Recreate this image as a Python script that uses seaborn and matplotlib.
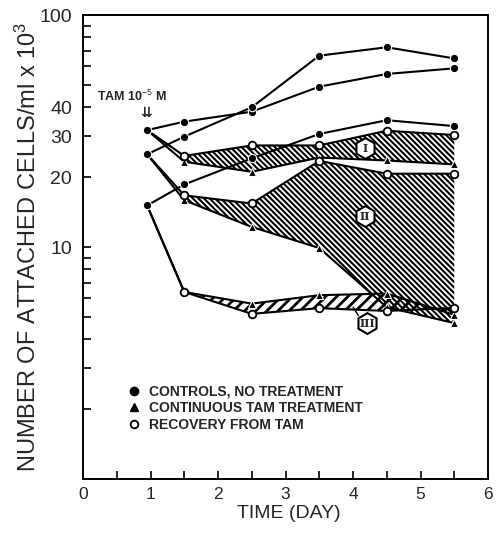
import matplotlib
matplotlib.use("Agg")
import matplotlib.pyplot as plt
import seaborn as sns
import pandas as pd
from matplotlib.lines import Line2D

# ---------------- data ----------------
days = [0.95, 1.5, 2.5, 3.5, 4.5, 5.5]

exp1_control = [31.9, 34.7, 38.3, 49.1, 55.7, 58.9]
exp1_tam = [31.9, 23.3, 21.1, 24.3, 23.6, 22.7]
exp1_recovery = [31.9, 24.7, 27.4, 27.4, 31.7, 30.4]

exp2_control = [25.1, 29.9, 40.0, 66.8, 72.6, 65.0]
exp2_tam = [25.1, 15.9, 12.2, 9.9, 5.5, 4.7]
exp2_recovery = [25.1, 16.7, 15.4, 23.5, 20.7, 20.7]

exp3_control = [15.1, 18.6, 24.1, 30.7, 35.2, 33.2]
exp3_tam = [15.1, 6.4, 5.7, 6.2, 6.3, 5.1]
exp3_recovery = [15.1, 6.4, 5.15, 5.45, 5.3, 5.47]

experiments = ["I", "II", "III"]
label_days = [4.18, 4.18, 4.21]
label_values = [26.7, 13.6, 4.7]

legend_labels = ["CONTROLS, NO TREATMENT", "CONTINUOUS TAM TREATMENT",
                 "RECOVERY FROM TAM"]
xticks = [0, 1, 2, 3, 4, 5, 6]
yticks = [10, 20, 30, 40, 100]

# ---------------- build table ----------------
series = {
    "I": (exp1_control, exp1_tam, exp1_recovery),
    "II": (exp2_control, exp2_tam, exp2_recovery),
    "III": (exp3_control, exp3_tam, exp3_recovery),
}
rows = []
for e, (c, t, r) in series.items():
    for name, vals in (("control", c), ("tam", t), ("recovery", r)):
        for d, v in zip(days, vals):
            rows.append(dict(exp=e, treatment=name, day=d, value=v))
df = pd.DataFrame(rows)

# ---------------- style ----------------
sns.set_theme(style="ticks")
plt.rcParams["font.family"] = ["Liberation Sans", "DejaVu Sans"]
plt.rcParams["mathtext.fontset"] = "custom"
plt.rcParams["mathtext.rm"] = "Liberation Sans"
plt.rcParams["mathtext.it"] = "Liberation Sans"
plt.rcParams["mathtext.bf"] = "Liberation Sans:bold"

fig = plt.figure(figsize=(4.99, 5.34), dpi=100)
ax = fig.add_axes([83 / 499, 1 - 479 / 534, 405 / 499, 464 / 534])

# ---------------- hatched regions ----------------
hatch_specs = {"I": ("\\" * 6, 1.5), "II": ("\\" * 6, 1.5), "III": ("/" * 3, 2.0)}
for e in experiments:
    sub = df[df.exp == e]
    tam = sub[sub.treatment == "tam"]
    rec = sub[sub.treatment == "recovery"]
    hatch, hlw = hatch_specs[e]
    with plt.rc_context({"hatch.linewidth": hlw, "hatch.color": "black"}):
        ax.fill_between(tam.day.values[1:], tam.value.values[1:], rec.value.values[1:],
                        facecolor="none", edgecolor="black", hatch=hatch,
                        linewidth=0, zorder=1)

# ---------------- lines ----------------
lw = 1.5
for e in experiments:
    sub = df[df.exp == e]
    tam = sub[sub.treatment == "tam"]
    rec = sub[sub.treatment == "recovery"]
    con = sub[sub.treatment == "control"]
    sns.lineplot(x=tam.day.values, y=tam.value.values, ax=ax, color="black", lw=lw,
                 marker="^", ms=6, markeredgewidth=0.8, markerfacecolor="black",
                 markevery=slice(1, None), zorder=3, estimator=None, sort=False)
    sns.lineplot(x=rec.day.values, y=rec.value.values, ax=ax, color="black", lw=lw,
                 marker="o", ms=5.5, markeredgewidth=1.3, markerfacecolor="white",
                 markeredgecolor="black", markevery=slice(1, None), zorder=3,
                 estimator=None, sort=False)
    sns.lineplot(x=con.day.values, y=con.value.values, ax=ax, color="black", lw=lw,
                 marker="o", ms=6, markeredgewidth=0.8, markerfacecolor="black",
                 zorder=4, estimator=None, sort=False)

# ---------------- roman numeral labels ----------------
for lab, d, v in zip(experiments, label_days, label_values):
    ax.plot([d], [v], marker="h", ms=15, mfc="white", mec="black", mew=1.5,
            ls="none", zorder=6)
    ax.text(d, v, lab, ha="center", va="center", fontsize=8, fontweight="bold",
            family="DejaVu Serif", zorder=7)
ax.annotate("", xy=(3.98, 5.63), xytext=(4.10, 4.95),
            arrowprops=dict(arrowstyle="-", color="black", lw=1.0), zorder=5)

# ---------------- treatment annotation ----------------
ax.text(0.21, 44.4, "TAM 10$^{-5}$ M", ha="left", va="center", fontsize=9,
        fontweight="bold")
ax.text(0.93, 38.0, "\u21ca", ha="center", va="center", fontsize=10,
        family="DejaVu Sans", fontweight="bold")

# ---------------- axes ----------------
ax.set_yscale("log")
ax.set_ylim(1, 100)
ax.set_xlim(0, 6)
ax.set_yticks(yticks)
ax.set_yticklabels([str(t) for t in yticks])
ax.set_yticks([2, 3, 4, 5, 6, 7, 8, 9, 50, 60, 70, 80, 90], minor=True)
ax.yaxis.set_minor_formatter(matplotlib.ticker.NullFormatter())
ax.set_xticks(xticks)
ax.set_xticklabels([str(t) for t in xticks])
ax.set_xticks([0.5, 1.5, 2.5, 3.5, 4.5, 5.5], minor=True)

ax.tick_params(axis="both", which="both", direction="in", length=5.5, width=1.2,
               color="black")
ax.tick_params(axis="y", which="major", labelsize=14, pad=8)
ax.tick_params(axis="x", which="major", labelsize=12.5, pad=6)
for s in ax.spines.values():
    s.set_linewidth(1.4)
    s.set_color("black")

ax.set_xlabel("TIME (DAY)", fontsize=14)
ax.set_ylabel("NUMBER OF ATTACHED CELLS/ml x 10$^3$", fontsize=17)
ax.yaxis.set_label_coords(-0.105, 0.5)
ax.xaxis.set_label_coords(0.509, -0.056)
ax.xaxis.label.set_va("top")

# ---------------- legend ----------------
handles = [
    Line2D([], [], marker="o", color="black", ls="none", ms=6),
    Line2D([], [], marker="^", color="black", ls="none", ms=6),
    Line2D([], [], marker="o", color="black", mfc="white", mew=1.3, ls="none", ms=5.5),
]
leg = ax.legend(handles, legend_labels, loc="upper left", bbox_to_anchor=(0.112, 0.203),
                frameon=False, fontsize=10, handlelength=0.8, handletextpad=0.7,
                labelspacing=0.18, borderpad=0, borderaxespad=0,
                prop={"weight": "bold", "size": 10})

fig.savefig("out.png", dpi=100)
